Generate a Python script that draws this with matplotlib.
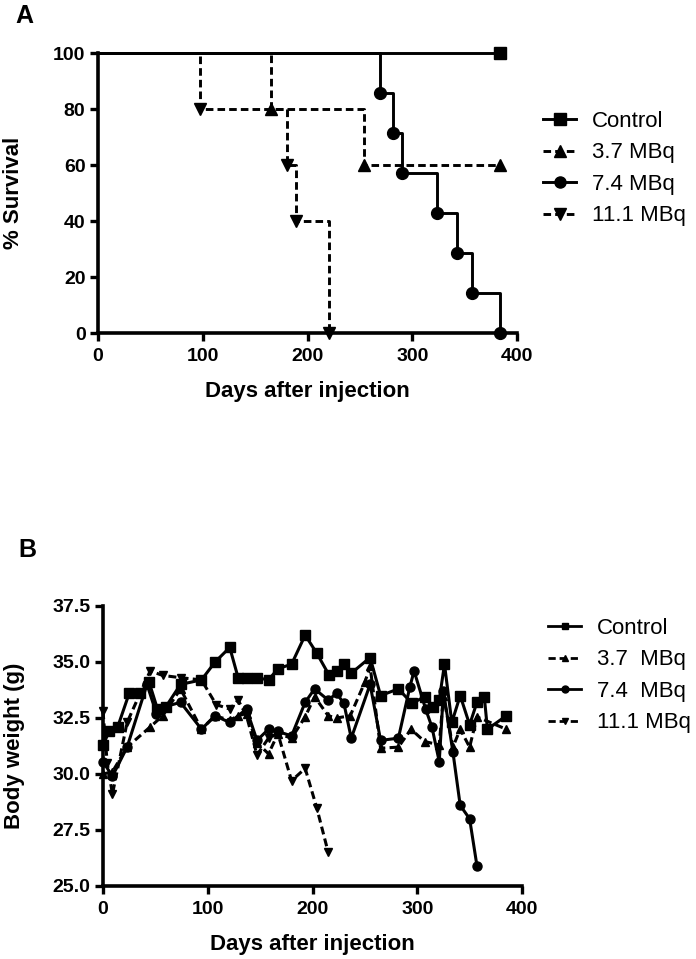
import matplotlib
matplotlib.use("Agg")
import matplotlib.pyplot as plt
from matplotlib.lines import Line2D

plt.rcParams['font.family'] = ['Liberation Sans', 'DejaVu Sans']

# ---- panel A: survival (Kaplan-Meier) ----
ctrl_days = [0, 384]
ctrl_surv = [100, 100]
mbq37_days = [0, 165, 254, 384]
mbq37_surv = [100, 80, 60, 60]
mbq74_days = [0, 269, 282, 290, 324, 343, 357, 384]
mbq74_surv = [100, 85.7, 71.4, 57.1, 42.9, 28.6, 14.3, 0]
mbq111_days = [0, 97, 180, 189, 221]
mbq111_surv = [100, 80, 60, 40, 0]

labels_a = ["Control", "3.7 MBq", "7.4 MBq", "11.1 MBq"]
labels_b = ["Control", "3.7  MBq", "7.4  MBq", "11.1 MBq"]

# ---- panel B: body weight ----
bw_ctrl_days = [0, 6, 14, 25, 35, 44, 52, 60, 74, 94, 107, 121, 129, 137, 147, 158, 167, 180,
                193, 204, 216, 223, 230, 237, 255, 265, 282, 295, 307, 315, 321, 326, 333, 341,
                350, 357, 364, 367, 385]
bw_ctrl = [31.3, 31.9, 32.1, 33.6, 33.6, 34.1, 32.9, 33.0, 34.0, 34.2, 35.0, 35.65, 34.3, 34.3,
           34.3, 34.2, 34.7, 34.9, 36.2, 35.4, 34.4, 34.6, 34.9, 34.5, 35.2, 33.5, 33.8, 33.15,
           33.45, 33.0, 33.3, 34.9, 32.3, 33.5, 32.2, 33.2, 33.45, 32.0, 32.6]

bw_37_days = [0, 9, 23, 45, 57, 74, 94, 107, 121, 129, 137, 147, 158, 167, 180, 193, 202, 215,
              223, 236, 250, 255, 265, 282, 294, 307, 321, 325, 334, 341, 350, 357, 385]
bw_37 = [30.0, 30.1, 31.2, 32.1, 32.6, 33.8, 32.0, 32.6, 32.4, 32.6, 32.7, 31.4, 30.9, 31.8,
         31.6, 32.55, 33.45, 32.6, 32.5, 32.6, 34.1, 34.8, 31.15, 31.2, 32.0, 31.45, 31.3, 33.5,
         31.2, 32.0, 31.2, 32.55, 32.0]

bw_74_days = [0, 9, 23, 42, 51, 59, 74, 94, 107, 121, 137, 147, 158, 167, 180, 193, 202, 215,
              223, 230, 237, 255, 265, 282, 293, 297, 308, 314, 321, 325, 334, 341, 350, 357]
bw_74 = [30.55, 29.9, 31.2, 34.0, 32.7, 33.0, 33.2, 32.0, 32.6, 32.3, 32.9, 31.5, 32.0, 31.9,
         31.7, 33.2, 33.8, 33.3, 33.6, 33.15, 31.6, 34.0, 31.5, 31.6, 33.9, 34.6, 32.9, 32.1,
         30.55, 33.7, 31.0, 28.6, 28.0, 25.9]

bw_111_days = [0, 4, 9, 23, 45, 57, 74, 94, 108, 121, 129, 137, 147, 158, 167, 180, 193, 204, 215]
bw_111 = [32.8, 30.5, 29.1, 32.3, 34.6, 34.4, 34.3, 34.2, 33.1, 32.9, 33.3, 32.6, 30.85, 31.6,
          31.8, 29.7, 30.25, 28.5, 26.5]

markers = ['s', '^', 'o', 'v']
styles = ['-', (0, (2.6, 1.4)), '-', (0, (2.6, 1.4))]

fig = plt.figure(figsize=(6.96, 9.59), dpi=100)
axA = fig.add_axes([98 / 696, 1 - 333 / 959, 419 / 696, 280 / 959])
axB = fig.add_axes([103 / 696, 1 - 886 / 959, 419 / 696, 280 / 959])


def style_axes(ax):
    for s in ['top', 'right']:
        ax.spines[s].set_visible(False)
    for s in ['left', 'bottom']:
        ax.spines[s].set_linewidth(2.6)
    ax.tick_params(width=2.4, length=6, labelsize=14)
    ax.tick_params(axis='x', pad=5)
    ax.tick_params(axis='y', pad=3)
    plt.setp(ax.get_xticklabels() + ax.get_yticklabels(), fontweight='bold')


# panel A
surv = [(ctrl_days, ctrl_surv, [1]),
        (mbq37_days, mbq37_surv, [1, 2, 3]),
        (mbq74_days, mbq74_surv, list(range(1, 8))),
        (mbq111_days, mbq111_surv, list(range(1, 5)))]
handles_a = []
for (d, s, idx), m, ls in zip(surv, markers, styles):
    axA.step(d, s, where='post', color='black', lw=2.1, linestyle=ls, clip_on=False)
    axA.plot([d[i] for i in idx], [s[i] for i in idx], linestyle='none', marker=m,
             color='black', markersize=8.5, clip_on=False, zorder=3)
    handles_a.append(Line2D([], [], color='black', lw=2.1, linestyle=ls, marker=m, markersize=8))

axA.set_xlim(0, 400)
axA.set_ylim(0, 100)
axA.set_xticks([0, 100, 200, 300, 400])
axA.set_yticks([0, 20, 40, 60, 80, 100])
style_axes(axA)
axA.set_xlabel("Days after injection", fontsize=16, fontweight='bold', labelpad=11)
axA.set_ylabel("% Survival", fontsize=16, fontweight='bold')
axA.yaxis.set_label_coords(-0.177, 0.5)

fig.legend(handles_a, labels_a, loc='upper left', bbox_to_anchor=(543 / 696, 1 - 111 / 959),
           frameon=False, fontsize=16, handlelength=1.5, handletextpad=0.7,
           labelspacing=0.47, borderpad=0, borderaxespad=0)

# panel B
series_b = [(bw_ctrl_days, bw_ctrl), (bw_37_days, bw_37), (bw_74_days, bw_74), (bw_111_days, bw_111)]
handles_b = []
for (d, w), m, ls in zip(series_b, markers, styles):
    ms = 6.5 if m in ('s', 'o') else 6
    axB.plot(d, w, color='black', lw=2.2, linestyle=ls, marker=m, markersize=ms, clip_on=False)
    handles_b.append(Line2D([], [], color='black', lw=2.0, linestyle=ls, marker=m, markersize=5))

axB.set_xlim(0, 400)
axB.set_ylim(25, 37.5)
axB.set_xticks([0, 100, 200, 300, 400])
axB.set_yticks([25, 27.5, 30, 32.5, 35, 37.5])
axB.set_yticklabels(["%.1f" % v for v in [25, 27.5, 30, 32.5, 35, 37.5]])
style_axes(axB)
axB.set_xlabel("Days after injection", fontsize=16, fontweight='bold', labelpad=11)
axB.set_ylabel("Body weight (g)", fontsize=16, fontweight='bold')
axB.yaxis.set_label_coords(-0.186, 0.5)

fig.legend(handles_b, labels_b, loc='upper left', bbox_to_anchor=(548 / 696, 1 - 618 / 959),
           frameon=False, fontsize=16, handlelength=1.5, handletextpad=0.7,
           labelspacing=0.47, borderpad=0, borderaxespad=0)

fig.text(24 / 696, 1 - 16 / 959, "A", fontsize=18, fontweight='bold', ha='center', va='center')
fig.text(27 / 696, 1 - 550 / 959, "B", fontsize=18, fontweight='bold', ha='center', va='center')

fig.savefig("out.png", dpi=100)
